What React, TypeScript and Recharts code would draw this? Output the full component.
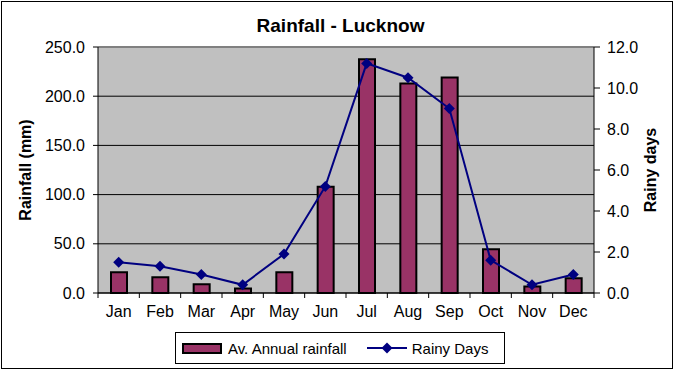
import { ComposedChart, Bar, Line, XAxis, YAxis, CartesianGrid, ReferenceLine, Legend } from "recharts";

const months = ['Jan', 'Feb', 'Mar', 'Apr', 'May', 'Jun', 'Jul', 'Aug', 'Sep', 'Oct', 'Nov', 'Dec'];
const rainfall = [21, 16, 9, 4.5, 21, 108, 237.5, 213, 219, 44.5, 6.5, 15];
const rainyDays = [1.5, 1.3, 0.9, 0.4, 1.9, 5.2, 11.2, 10.5, 9.0, 1.6, 0.4, 0.9];
const rainfallTicks = [0, 50, 100, 150, 200, 250];
const dayTicks = [0, 2, 4, 6, 8, 10, 12];

const data = months.map((m, i) => ({ month: m, rainfall: rainfall[i], days: rainyDays[i] }));

const FONT = '"Liberation Sans", Arial, sans-serif';
const BAR = '#993366';
const LINE = '#000080';

const Diamond = (props: any) => {
    const { cx, cy } = props;
    if (cx == null || cy == null) return null;
    const r = 5.5;
    return <polygon points={`${cx},${cy - r} ${cx + r},${cy} ${cx},${cy + r} ${cx - r},${cy}`} fill={LINE} />;
};

const MonthTick = (props: any) => {
    const { x, y, payload, index, visibleTicksCount } = props;
    const half = payload.offset || 496 / 24;
    const axisY = y - 13;
    return (
        <g>
            <text x={x} y={y} dy="0.71em" textAnchor="middle" fontSize={16} fill="#000">{payload.value}</text>
            <line x1={x - half} x2={x - half} y1={axisY} y2={axisY + 5} stroke="#000" />
            {index === visibleTicksCount - 1 && <line x1={x + half} x2={x + half} y1={axisY} y2={axisY + 5} stroke="#000" />}
        </g>
    );
};

const axisTitle = (text: string, dx: number) => (p: any) => {
    const vb = p.viewBox;
    const cx = vb.x + dx;
    const cy = vb.y + vb.height / 2;
    return (
        <text x={cx} y={cy} transform={`rotate(-90 ${cx} ${cy})`} textAnchor="middle" dominantBaseline="central"
            fontSize={16} fontWeight="bold" fill="#000">{text}</text>
    );
};

const LegendBox = (props: any) => {
    const items = props.payload || [];
    return (
        <div style={{ boxSizing: 'border-box', width: 330, height: 32, border: '1px solid #000', background: '#fff',
            display: 'flex', alignItems: 'center', fontSize: 15, color: '#000', paddingLeft: 6 }}>
            {items.map((it: any, i: number) => (
                <div key={i} style={{ display: 'flex', alignItems: 'center', marginRight: i === 0 ? 20 : 0 }}>
                    {it.type === 'line' ? (
                        <svg width={40} height={12} style={{ marginRight: 5 }}>
                            <line x1={0} x2={40} y1={6} y2={6} stroke={LINE} strokeWidth={2} />
                            <polygon points="20,0.5 25.5,6 20,11.5 14.5,6" fill={LINE} />
                        </svg>
                    ) : (
                        <div style={{ boxSizing: 'border-box', width: 40, height: 11, background: BAR, border: '2px solid #000', marginRight: 6 }} />
                    )}
                    <span>{it.value}</span>
                </div>
            ))}
        </div>
    );
};

export default function App() {
    return (
        <div style={{ position: 'absolute', left: 0, top: 0, width: 675, height: 373, background: '#fff', fontFamily: FONT }}>
            <div style={{ position: 'absolute', left: 1, top: 1, width: 672, height: 368, boxSizing: 'border-box', border: '1px solid #000' }} />
            <div style={{ position: 'absolute', left: 3, top: 16, width: 675, textAlign: 'center', fontSize: 19, lineHeight: '19px', fontWeight: 'bold' }}>
                Rainfall - Lucknow
            </div>
            <ComposedChart width={675} height={373} data={data} margin={{ top: 47, right: 11, bottom: 9, left: 23 }}>
                <CartesianGrid yAxisId="left" vertical={false} stroke="#000" fill="#C0C0C0" fillOpacity={1} />
                <XAxis dataKey="month" height={39} tickLine={false} tickSize={5} tickMargin={8} stroke="#000" tick={<MonthTick />} interval={0} />
                <YAxis yAxisId="left" width={75} domain={[0, 250]} ticks={rainfallTicks} tickFormatter={(v: number) => v.toFixed(1)}
                    stroke="#000" tick={{ fill: '#000', fontSize: 16 }} tickSize={5} tickMargin={8}
                    label={axisTitle('Rainfall (mm)', 2)} />
                <YAxis yAxisId="right" orientation="right" width={70} domain={[0, 12]} ticks={dayTicks} tickFormatter={(v: number) => v.toFixed(1)}
                    stroke="#000" tick={{ fill: '#000', fontSize: 16 }} tickSize={6} tickMargin={7}
                    label={axisTitle('Rainy days', 56)} />
                <ReferenceLine yAxisId="left" y={250} stroke="#808080" strokeWidth={2} />
                <Bar yAxisId="left" dataKey="rainfall" name="Av. Annual rainfall" fill={BAR} stroke="#000" strokeWidth={2} barSize={16} isAnimationActive={false} />
                <Line yAxisId="right" dataKey="days" name="Rainy Days" type="linear" stroke={LINE} strokeWidth={2} dot={<Diamond />} activeDot={false} isAnimationActive={false} />
                <Legend verticalAlign="bottom" content={<LegendBox />} wrapperStyle={{ left: 175, width: 330, height: 32 }} />
            </ComposedChart>
        </div>
    );
}
